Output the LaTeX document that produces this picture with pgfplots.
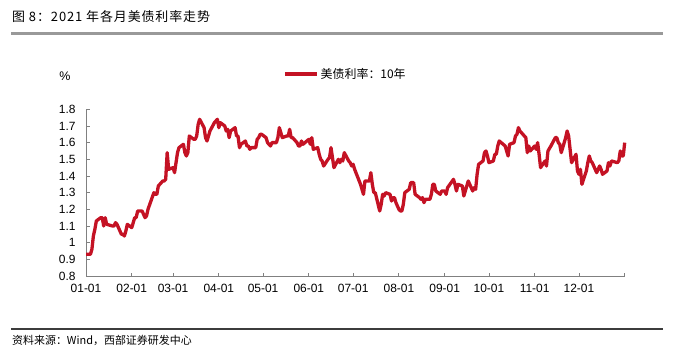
\documentclass[border=0pt]{standalone}
\usepackage{pgfplots}
\pgfplotsset{compat=1.18}
\usepackage{pgfplotstable}
\usepackage{fontspec}
\setmainfont{Liberation Sans}
\newfontfamily\cjk{Noto Sans CJK SC}
\newfontfamily\cjkspaced[LetterSpace=7]{Noto Sans CJK SC}
\definecolor{linered}{RGB}{196,18,36}
\definecolor{toprule}{RGB}{153,153,153}
\definecolor{botrule}{RGB}{60,60,60}
\pgfplotstableread{
day yield
0 0.93
3 0.93
4 0.96
5 1.04
6 1.08
7 1.13
10 1.15
11 1.15
12 1.10
13 1.15
14 1.11
18 1.10
19 1.10
20 1.12
21 1.11
24 1.05
25 1.05
26 1.04
27 1.07
28 1.11
31 1.09
32 1.12
33 1.15
34 1.15
35 1.19
38 1.19
39 1.17
40 1.15
41 1.16
42 1.20
46 1.30
47 1.29
48 1.29
49 1.34
52 1.37
53 1.37
54 1.38
55 1.54
56 1.44
59 1.45
60 1.42
61 1.48
62 1.54
63 1.57
66 1.59
67 1.54
68 1.52
69 1.54
70 1.64
73 1.62
74 1.62
75 1.64
76 1.71
77 1.74
80 1.69
81 1.63
82 1.61
83 1.64
84 1.67
87 1.72
88 1.73
89 1.74
90 1.69
91 1.72
94 1.70
95 1.67
96 1.68
97 1.63
98 1.67
101 1.69
102 1.64
103 1.64
104 1.57
105 1.59
108 1.61
109 1.58
110 1.58
111 1.56
112 1.57
115 1.57
116 1.62
117 1.63
118 1.65
119 1.65
122 1.63
123 1.60
124 1.59
125 1.58
126 1.60
129 1.60
130 1.63
131 1.69
132 1.66
133 1.63
136 1.64
137 1.64
138 1.68
139 1.63
140 1.63
143 1.60
144 1.58
145 1.58
146 1.61
147 1.59
151 1.62
152 1.59
153 1.63
154 1.56
157 1.57
158 1.53
159 1.50
160 1.49
161 1.46
164 1.50
165 1.51
166 1.57
167 1.51
168 1.45
171 1.50
172 1.48
173 1.50
174 1.49
175 1.54
178 1.49
179 1.48
180 1.46
181 1.47
182 1.44
186 1.35
187 1.32
188 1.29
189 1.37
192 1.37
193 1.42
194 1.35
195 1.30
196 1.30
199 1.19
200 1.23
201 1.29
202 1.28
203 1.30
206 1.29
207 1.25
208 1.27
209 1.27
210 1.24
212 1.20
213 1.19
214 1.19
215 1.23
216 1.30
219 1.32
220 1.36
221 1.36
222 1.36
223 1.29
226 1.27
227 1.26
228 1.27
229 1.24
230 1.26
233 1.26
234 1.29
235 1.35
236 1.35
237 1.31
240 1.29
241 1.31
243 1.31
244 1.29
245 1.33
249 1.38
250 1.35
251 1.31
252 1.35
255 1.34
256 1.28
257 1.31
258 1.34
259 1.37
262 1.31
263 1.33
264 1.32
265 1.41
266 1.47
269 1.49
270 1.54
271 1.55
272 1.52
273 1.48
276 1.49
277 1.53
278 1.53
279 1.58
280 1.61
284 1.58
285 1.55
286 1.52
287 1.59
290 1.60
291 1.64
292 1.65
293 1.69
294 1.67
297 1.64
298 1.63
299 1.54
300 1.58
301 1.55
304 1.58
305 1.56
306 1.60
307 1.53
308 1.45
311 1.49
312 1.46
313 1.55
315 1.58
318 1.63
319 1.63
320 1.60
321 1.59
322 1.54
325 1.63
326 1.67
327 1.64
329 1.48
332 1.53
333 1.43
334 1.41
335 1.44
336 1.35
339 1.43
340 1.48
341 1.52
342 1.49
343 1.48
346 1.42
347 1.44
348 1.46
349 1.44
350 1.41
353 1.43
354 1.48
355 1.46
356 1.49
360 1.48
361 1.49
362 1.55
363 1.52
364 1.52
365 1.60
}\yielddata
\begin{document}
\begin{tikzpicture}
\path (0,0) rectangle (673bp,-352bp);
\node[anchor=west, inner sep=0pt, font=\cjkspaced\fontsize{13}{15}\selectfont] at (12bp,-16.7bp) {图 8：2021 年各月美债利率走势};
\draw[toprule, line width=2.3bp] (11bp,-33.5bp) -- (663bp,-33.5bp);
\draw[botrule, line width=1.2bp] (11bp,-329bp) -- (663bp,-329bp);
\node[anchor=west, inner sep=0pt, font=\cjk\fontsize{11}{13}\selectfont] at (12bp,-340bp) {资料来源：Wind，西部证券研发中心};
\node[inner sep=0pt, font=\fontsize{12.5}{14}\selectfont] at (65bp,-76bp) {\%};
\begin{axis}[
  at={(86bp,-276bp)}, anchor=south west,
  scale only axis, width=538.7bp, height=166.7bp,
  xmin=0, xmax=365, ymin=0.8, ymax=1.8,
  axis x line*=bottom, axis y line*=left,
  axis line style={color={rgb,255:red,128;green,128;blue,128}, line width=1bp},
  xtick={0,31,59,90,120,151,181,212,243,273,304,334,365},
  xticklabels={01-01,02-01,03-01,04-01,05-01,06-01,07-01,08-01,09-01,10-01,11-01,12-01,},
  ytick={0.8,0.9,1,1.1,1.2,1.3,1.4,1.5,1.6,1.7,1.8},
  yticklabels={0.8,0.9,1,1.1,1.2,1.3,1.4,1.5,1.6,1.7,1.8},
  tick align=inside,
  major tick length=3.5bp,
  tick style={color={rgb,255:red,128;green,128;blue,128}, line width=0.8bp},
  tick label style={font=\fontsize{12}{14}\selectfont, text=black},
  yticklabel style={xshift=-7bp},
  xticklabel style={yshift=-5bp},
  /pgf/number format/assume math mode=true,
  legend style={at={(0.3657,1.212)}, anchor=west, draw=none, fill=none,
    inner sep=0pt, font=\cjk\fontsize{12}{14}\selectfont},
  legend image code/.code={\draw[#1, line width=3.5bp] (0bp,0bp) -- (32bp,0bp);},
  clip=false,
]
\addplot[linered, line width=3.3bp, line join=round] table[x=day, y=yield] {\yielddata};
\addlegendentry{美债利率：10年}
\end{axis}
\end{tikzpicture}
\end{document}
